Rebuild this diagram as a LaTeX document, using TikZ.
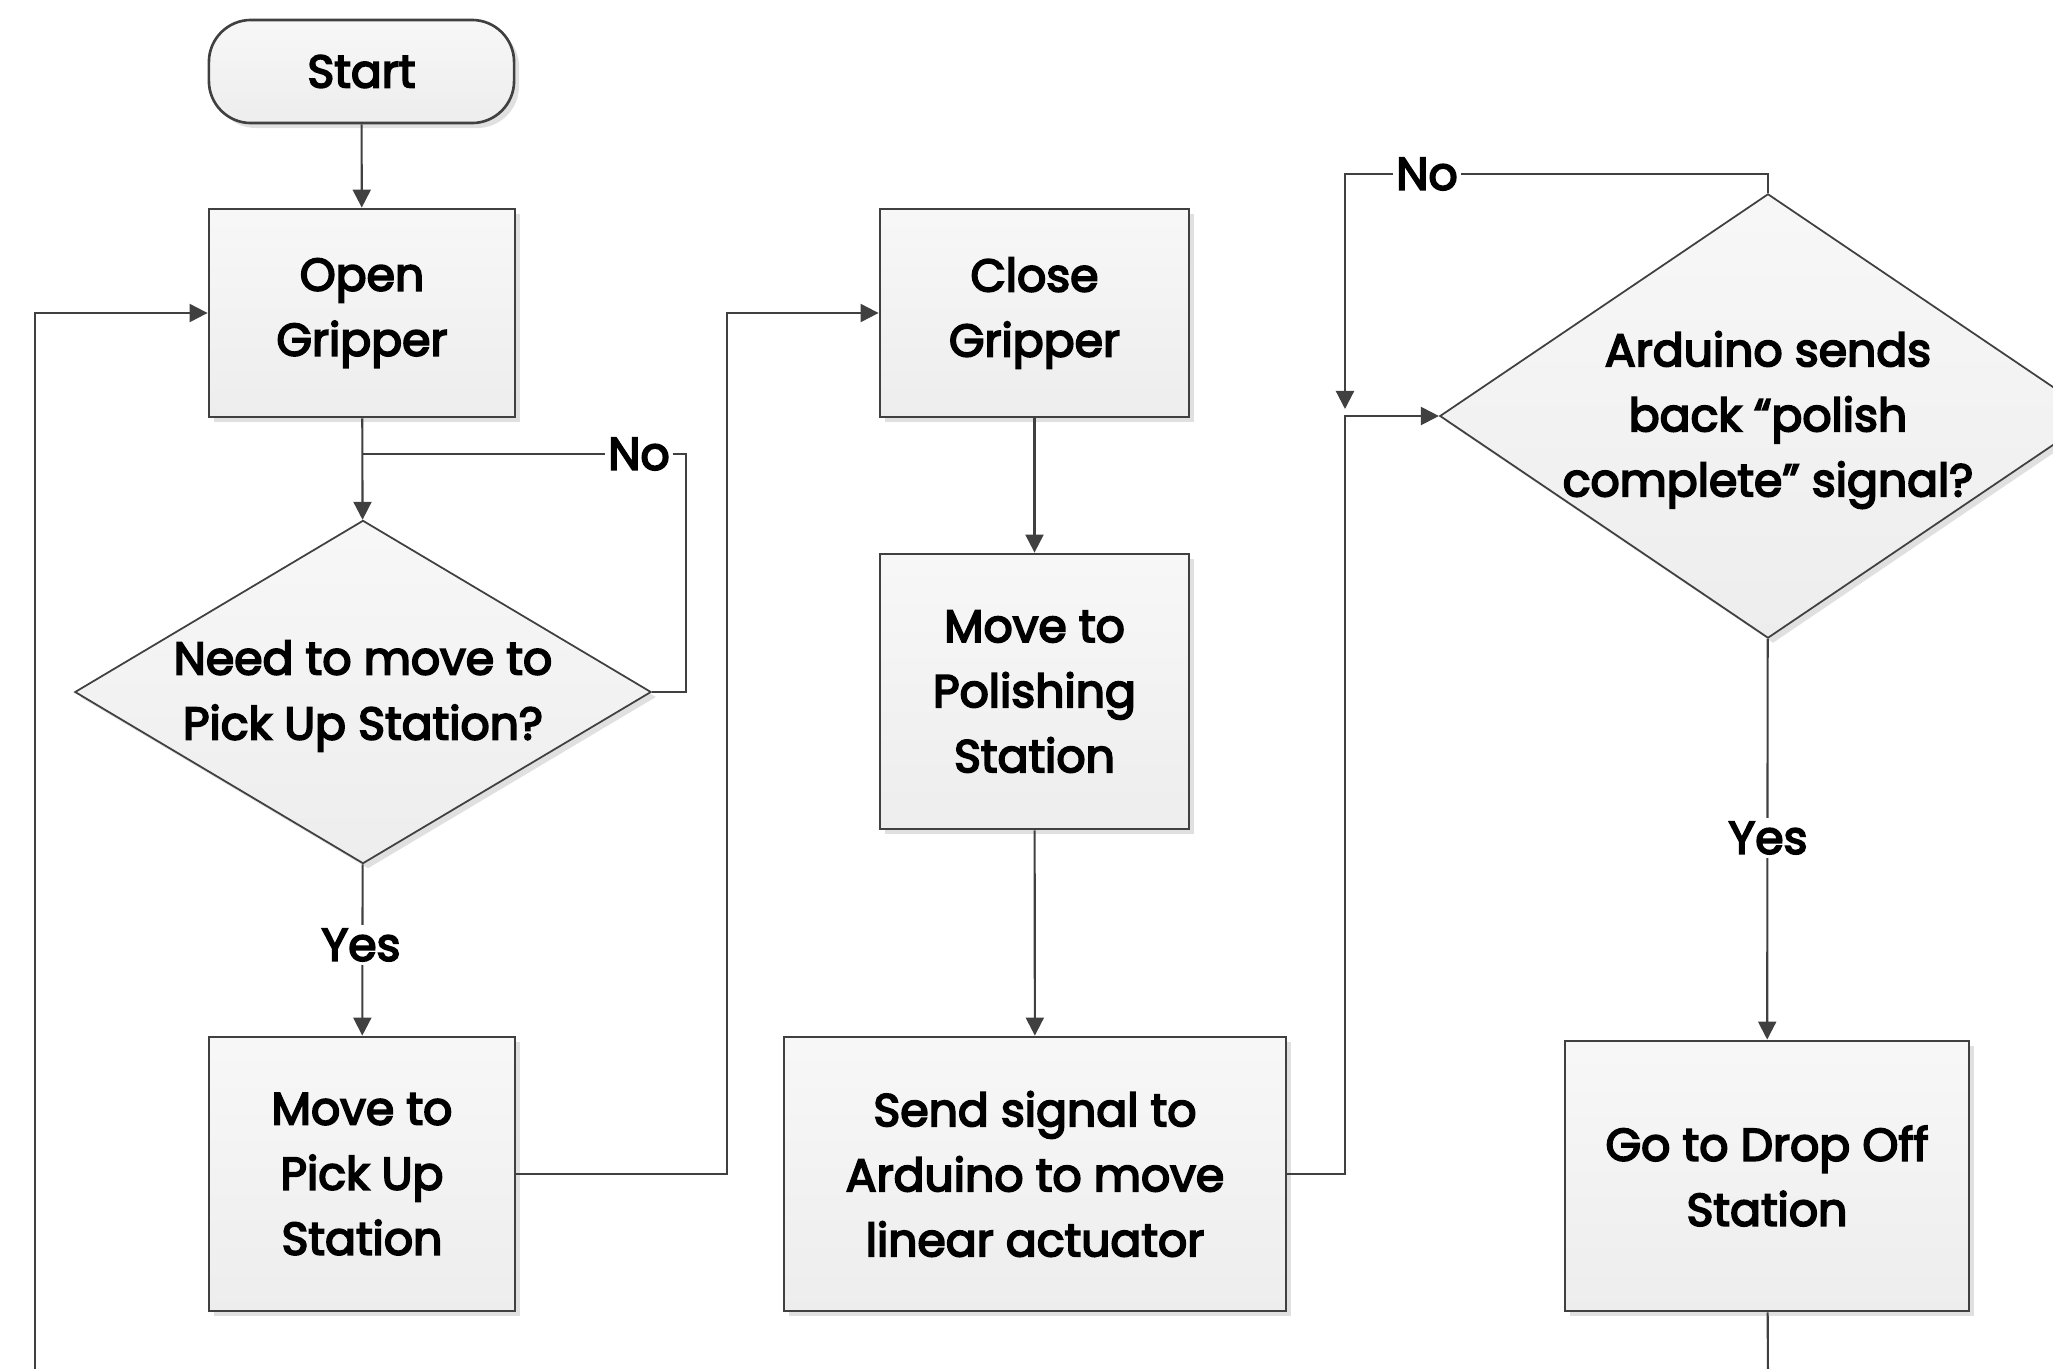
\documentclass[tikz,border=0pt]{standalone}
\usepackage{fontspec}
\setmainfont{Poppins}
\newfontfamily\diafont{Poppins}[FakeBold=4]
\usetikzlibrary{shapes.geometric,arrows.meta,shadows}
\definecolor{lncol}{HTML}{404040}
\begin{document}
\begin{tikzpicture}[x=0.01cm,y=-0.01cm,
  txt/.style={font=\diafont\fontsize{13}{18.5}\selectfont, text=black, align=center},
  shade/.style={top color=white!97!black, bottom color=white!93!black,
    drop shadow={shadow xshift=0.05cm, shadow yshift=-0.05cm, fill=black!12, opacity=1}},
  box/.style={txt, shade, draw=lncol, line width=0.75pt, rectangle, inner sep=0pt},
  term/.style={box, rounded corners=0.42cm},
  dia/.style={shade, draw=lncol, line width=0.5pt, diamond, inner sep=0pt},
  conn/.style={draw=lncol, line width=0.6pt},
  arr/.style={conn, -{Triangle[length=0.18cm,width=0.18cm]}},
  lab/.style={txt, fill=white, inner sep=1pt}
]
\useasboundingbox (0,0) rectangle (2053,1369);
\clip (0,0) rectangle (2053,1369);

% nodes
\node[term, minimum width=3.05cm, minimum height=1.03cm] (start) at (361.5,71.5) {Start};
\node[box, minimum width=3.06cm, minimum height=2.08cm] (open) at (362,313) {Open\\Gripper};
\node[dia, minimum width=5.76cm, minimum height=3.43cm] (d1) at (363,692) {};
\node[txt] (d1t) at (363,696) {Need to move to\\Pick Up Station?};
\node[box, minimum width=3.06cm, minimum height=2.74cm] (pick) at (362,1174) {Move to\\Pick Up\\Station};
\node[box, minimum width=3.09cm, minimum height=2.08cm] (close) at (1034.5,313) {Close\\Gripper};
\node[box, minimum width=3.09cm, minimum height=2.75cm] (polish) at (1034.5,691.5) {Move to\\Polishing\\Station};
\node[box, minimum width=5.02cm, minimum height=2.74cm] (send) at (1035,1174) {Send signal to\\Arduino to move\\linear actuator};
\node[dia, minimum width=6.56cm, minimum height=4.44cm] (d2) at (1768,416) {};
\node[txt] (d2t) at (1768,420) {Arduino sends\\back “polish\\complete” signal?};
\node[box, minimum width=4.04cm, minimum height=2.70cm] (drop) at (1767,1176) {Go to Drop Off\\Station};

% helper coordinates
\coordinate (bl) at (35,1380);
\coordinate (br) at (1768,1380);
\coordinate (d1no) at (686,454);
\coordinate (j1) at (727,313);
\coordinate (j2) at (1345,416);
\coordinate (j2a) at (1345,409);
\coordinate (j3) at (1345,174);

% connectors
\draw[arr] (start) -- (open);
\draw[arr] (open) -- (d1);
\draw[conn] (d1.east) -| (d1no) -- (d1no -| open.south);
\draw[arr] (d1) -- (pick);
\draw[arr] (pick.east) -| (j1) -- (close.west);
\draw[arr] (close) -- (polish);
\draw[arr] (polish) -- (send);
\draw[arr] (send.east) -| (j2) -- (d2.west);
\draw[arr] (d2.north) |- (j3) -- (j2a);
\draw[arr] (d2) -- (drop);
\draw[conn] (drop) -- (br);
\draw[arr] (bl) |- (open.west);

% labels
\node[lab] (no1) at (639,454) {No};
\node[lab] (yes1) at (361,945) {Yes};
\node[lab] (no2) at (1427,174) {No};
\node[lab] (yes2) at (1768,838) {Yes};
\end{tikzpicture}
\end{document}
